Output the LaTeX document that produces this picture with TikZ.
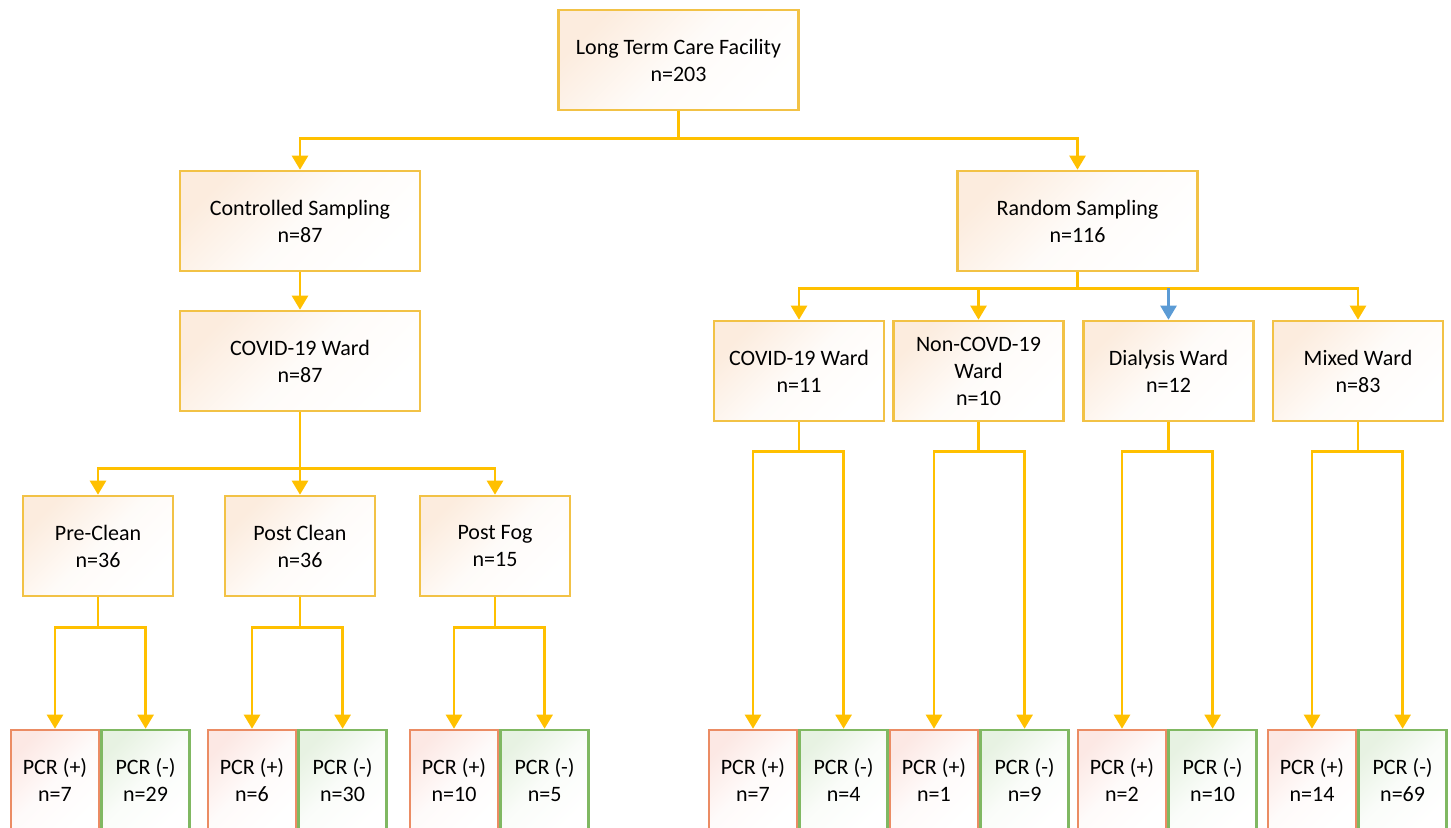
\documentclass[tikz,border=0pt]{standalone}
\usepackage{fontspec}
\setmainfont{Carlito}
\usetikzlibrary{arrows.meta, positioning}

\definecolor{gold}{RGB}{255,192,0}
\definecolor{boxline}{RGB}{242,194,70}
\definecolor{boxfill}{RGB}{252,236,222}
\definecolor{posline}{RGB}{235,140,100}
\definecolor{posfill}{RGB}{252,232,228}
\definecolor{negline}{RGB}{128,184,98}
\definecolor{negfill}{RGB}{231,242,226}
\definecolor{bluearrow}{RGB}{91,155,213}

\begin{document}
\begin{tikzpicture}[
    x=0.5pt, y=-0.5pt,
    block/.style={rectangle, draw=boxline, line width=1.3pt, top color=boxfill, bottom color=white, middle color=white!80!boxfill, shading angle=45, minimum width=75pt, minimum height=50pt, align=center, font=\fontsize{11pt}{13.5pt}\selectfont},
    wide/.style={block, minimum width=120pt},
    ward/.style={block, minimum width=85pt},
    posbox/.style={block, draw=posline, top color=posfill, bottom color=white, middle color=white!80!posfill, shading angle=45, minimum width=44pt},
    negbox/.style={block, draw=negline, top color=negfill, bottom color=white, middle color=white!80!negfill, shading angle=45, minimum width=44pt},
    flow/.style={draw=gold, line width=1.2pt, -{Triangle[width=8pt, length=7pt]}}
]

\useasboundingbox (0,0) rectangle (1451,827);
\clip (0,0) rectangle (1451,827);

% Top levels
\node[wide] (ltcf) at (678.5,60) {Long Term Care Facility\\n=203};
\node[wide] (controlled) at (300,221) {Controlled Sampling\\n=87};
\node[wide] (random) at (1077.5,221) {Random Sampling\\n=116};

% Controlled sampling branch
\node[wide] (cward) at (300,361) {COVID-19 Ward\\n=87};
\node[block] (preclean) at (98,546) {Pre-Clean\\n=36};
\node[block] (postclean) at (300,546) {Post Clean\\n=36};
\node[block] (postfog) at (495,546) {Post Fog\\n=15};

% Random sampling branch
\node[ward] (rward) at (799,371) {COVID-19 Ward\\n=11};
\node[ward] (noncovid) at (978.5,371) {Non-COVD-19\\Ward\\n=10};
\node[ward] (dialysis) at (1168.5,371) {Dialysis Ward\\n=12};
\node[ward] (mixed) at (1358,371) {Mixed Ward\\n=83};

% PCR results
\node[posbox] (prepos) at (55,780) {PCR (+)\\n=7};
\node[negbox, right=0pt of prepos] (preneg) {PCR (-)\\n=29};
\node[posbox] (postpos) at (252,780) {PCR (+)\\n=6};
\node[negbox, right=0pt of postpos] (postneg) {PCR (-)\\n=30};
\node[posbox] (fogpos) at (454,780) {PCR (+)\\n=10};
\node[negbox, right=0pt of fogpos] (fogneg) {PCR (-)\\n=5};
\node[posbox] (rwardpos) at (753,780) {PCR (+)\\n=7};
\node[negbox, right=0pt of rwardpos] (rwardneg) {PCR (-)\\n=4};
\node[posbox] (noncovidpos) at (934,780) {PCR (+)\\n=1};
\node[negbox, right=0pt of noncovidpos] (noncovidneg) {PCR (-)\\n=9};
\node[posbox] (dialysispos) at (1122,780) {PCR (+)\\n=2};
\node[negbox, right=0pt of dialysispos] (dialysisneg) {PCR (-)\\n=10};
\node[posbox] (mixedpos) at (1312,780) {PCR (+)\\n=14};
\node[negbox, right=0pt of mixedpos] (mixedneg) {PCR (-)\\n=69};

% Flows
\draw[flow] (ltcf.south) -- ++(0,27) -| (controlled.north);
\draw[flow] (ltcf.south) -- ++(0,27) -| (random.north);
\draw[flow] (controlled) -- (cward);

\foreach \n in {preclean, postclean, postfog}
    \draw[flow] (cward.south) -- ++(0,56) -| (\n.north);

\path (random.south) -- ++(0,16) coordinate (rbar);
\foreach \n in {rward, noncovid, mixed}
    \draw[flow] (random.south) -- (rbar) -| (\n.north);
\draw[flow, draw=bluearrow] (dialysis.north |- rbar) -- (dialysis.north);

\foreach \p/\a/\b/\d in {preclean/prepos/preneg/30, postclean/postpos/postneg/30, postfog/fogpos/fogneg/30, rward/rwardpos/rwardneg/29, noncovid/noncovidpos/noncovidneg/29, dialysis/dialysispos/dialysisneg/29, mixed/mixedpos/mixedneg/29} {
    \draw[flow] (\p.south) -- ++(0,\d) -| (\a.north);
    \draw[flow] (\p.south) -- ++(0,\d) -| (\b.north);
}

\end{tikzpicture}
\end{document}
